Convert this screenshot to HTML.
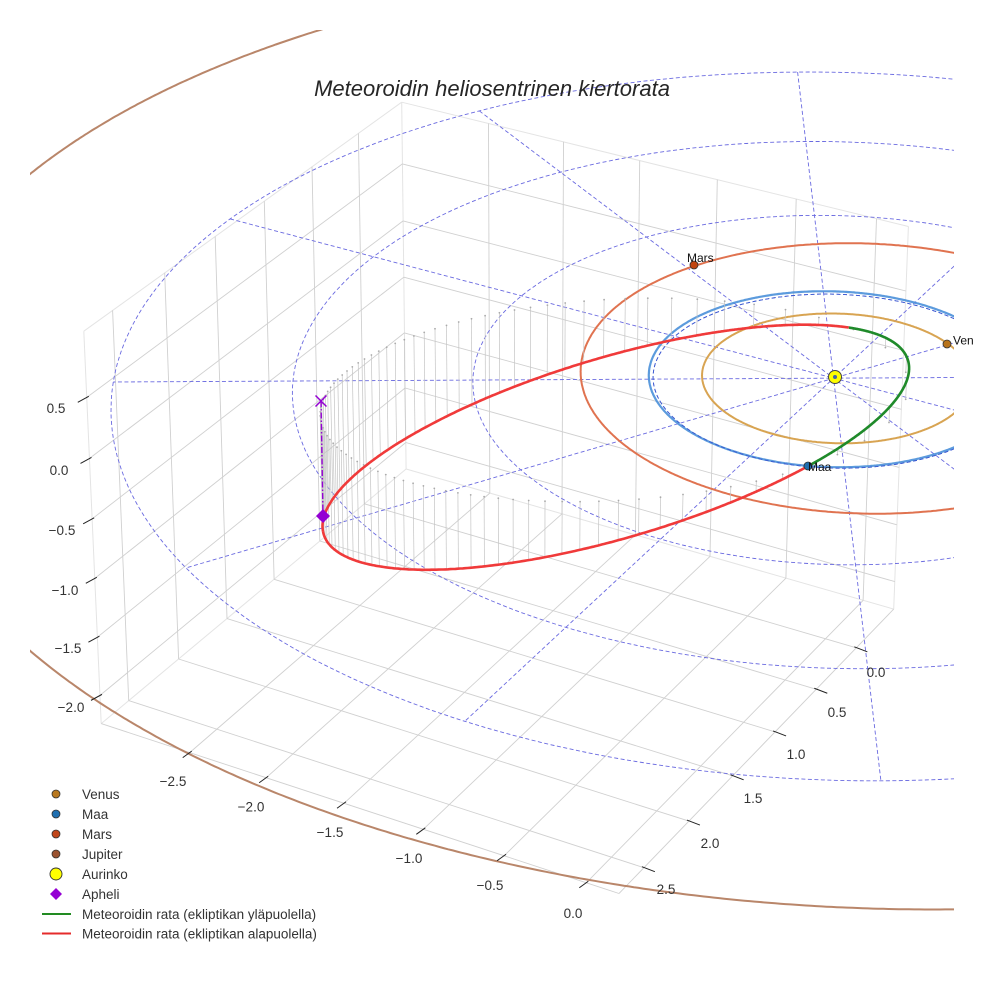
<!DOCTYPE html>
<html><head><meta charset="utf-8">
<style>
html,body{margin:0;padding:0;background:#fff;}
body{width:984px;height:984px;overflow:hidden;position:relative;font-family:"Liberation Sans",Arial,sans-serif;}
svg{position:absolute;left:0;top:0;}
</style></head><body>
<svg id="s" width="984" height="984" viewBox="0 0 984 984" xmlns="http://www.w3.org/2000/svg">
<defs>
<clipPath id="ax"><rect x="30" y="30" width="924" height="930"/></clipPath>
<clipPath id="fig"><rect x="0" y="0" width="974" height="984"/></clipPath>
</defs>
<rect x="0" y="0" width="984" height="984" fill="#fff"/>
<g id="grid"></g>
<g id="geo" clip-path="url(#ax)"></g>
<g id="ticks" stroke="#222" stroke-width="1"></g>

<!-- markers -->
<g>
<line x1="321" y1="401" x2="323" y2="516" stroke="#9400d3" stroke-width="1.4" stroke-dasharray="6 2 1.5 2"/>
<path d="M315.5 395.5 L326.5 406.5 M326.5 395.5 L315.5 406.5" stroke="#9400d3" stroke-width="1.5" fill="none"/>
<path d="M323 509 L330 516 L323 523 L316 516 Z" fill="#9400d3"/>
<circle cx="694" cy="265" r="4" fill="#c1440e" stroke="#333" stroke-width="0.8"/>
<circle cx="947" cy="344" r="4" fill="#b8731a" stroke="#333" stroke-width="0.8"/>
<circle cx="808" cy="466" r="4" fill="#1f6fb0" stroke="#333" stroke-width="0.8"/>
<circle cx="835" cy="377" r="6.5" fill="#ffff00" stroke="#444" stroke-width="1"/>
<circle cx="835" cy="377" r="2" fill="#4466aa"/>
</g>

<g font-family="Liberation Sans, Arial, sans-serif" font-size="12" fill="#111" clip-path="url(#fig)">
<text x="687" y="262">Mars</text>
<text x="953" y="344.5">Venus</text>
<text x="808" y="471">Maa</text>
</g>

<!-- title -->
<text x="492" y="96" text-anchor="middle" font-family="Liberation Sans, Arial, sans-serif" font-size="22" font-style="italic" fill="#262626">Meteoroidin heliosentrinen kiertorata</text>

<!-- tick labels -->
<g font-family="Liberation Sans, Arial, sans-serif" font-size="13.5" fill="#333" text-anchor="middle">
<text x="173" y="786">−2.5</text>
<text x="251" y="811.5">−2.0</text>
<text x="330" y="837">−1.5</text>
<text x="409" y="863">−1.0</text>
<text x="490" y="890">−0.5</text>
<text x="573" y="918">0.0</text>

<text x="876" y="677">0.0</text>
<text x="837" y="717">0.5</text>
<text x="796" y="759">1.0</text>
<text x="753" y="803">1.5</text>
<text x="710" y="848">2.0</text>
<text x="666" y="894">2.5</text>

<text x="56" y="413">0.5</text>
<text x="59" y="475">0.0</text>
<text x="62" y="535">−0.5</text>
<text x="65" y="595">−1.0</text>
<text x="68" y="653">−1.5</text>
<text x="71" y="712">−2.0</text>
</g>

<!-- legend -->
<g font-family="Liberation Sans, Arial, sans-serif" font-size="13.5" fill="#333">
<circle cx="56" cy="794" r="4" fill="#b8781f" stroke="#333" stroke-width="0.8"/>
<text x="82" y="799">Venus</text>
<circle cx="56" cy="814" r="4" fill="#1f6fb0" stroke="#333" stroke-width="0.8"/>
<text x="82" y="819">Maa</text>
<circle cx="56" cy="834" r="4" fill="#c0461a" stroke="#333" stroke-width="0.8"/>
<text x="82" y="839">Mars</text>
<circle cx="56" cy="854" r="4" fill="#9a5230" stroke="#333" stroke-width="0.8"/>
<text x="82" y="859">Jupiter</text>
<circle cx="56" cy="874" r="6" fill="#ffff00" stroke="#333" stroke-width="0.9"/>
<text x="82" y="879">Aurinko</text>
<path d="M56 888 L62 894 L56 900 L50 894 Z" fill="#9400d3"/>
<text x="82" y="899">Apheli</text>
<line x1="42" y1="914" x2="71" y2="914" stroke="#228b22" stroke-width="2"/>
<text x="82" y="919">Meteoroidin rata (ekliptikan yläpuolella)</text>
<line x1="42" y1="933.5" x2="71" y2="933.5" stroke="#e52b2b" stroke-width="2"/>
<text x="82" y="938.5">Meteoroidin rata (ekliptikan alapuolella)</text>
</g>
</svg>
<script>
(function(){
const NS="http://www.w3.org/2000/svg";
const x0=-3.09,x1=0.196,y0=-0.48,y1=2.77,z0=-2.245,z1=1.035;
const C=[];
function add(X,Y,Z,u,v,w){C.push([X,Y,Z,(u-492)/400,(v-492)/400,w||1]);}
add(x0,y1,z0,99,727);add(x1,y1,z0,618,895);add(x1,y0,z0,895,613);add(x0,y0,z0,405,472);
add(x0,y1,z1,82,333);add(x0,y0,z1,400,102);add(x1,y0,z1,912,230);
add(0,0,0,835,377,6);
[[-2.5,187,754],[-2,262,780],[-1.5,342,806],[-1,421,831],[-0.5,503,857],[0,585,884]].forEach(a=>add(a[0],y1,z0,a[1],a[2]));
[[0,857,648],[0.5,817,688],[1,775,730],[1.5,732,773],[2,688,817],[2.5,644,862]].forEach(a=>add(x1,a[0],z0,a[1],a[2]));
[[0.5,86,398],[0,89,458],[-0.5,92,520],[-1,95,579],[-1.5,98,638],[-2,101,697]].forEach(a=>add(x0,y1,a[0],a[1],a[2]));
[[0.5,402,162],[0,402,220],[-0.5,403,277],[-1,403,333],[-1.5,404,388],[-2,405,443]].forEach(a=>add(x0,y0,a[0],a[1],a[2]));
[[2.5,132,698],[2,182,657],[1.5,230,617],[1,277,578],[0.5,322,540],[0,365,505]].forEach(a=>add(x0,a[0],z0,a[1],a[2]));
[[2.5,115,310],[2,167,272],[1.5,218,235],[1,267,200],[0.5,313,165],[0,360,131]].forEach(a=>add(x0,a[0],z1,a[1],a[2]));
[[-2.5,483,122],[-2,560,142],[-1.5,637,162],[-1,715,182],[-0.5,795,202],[0,877,222]].forEach(a=>add(a[0],y0,z1,a[1],a[2]));

function solve(A,b){const n=b.length;for(let i=0;i<n;i++){let m=i;for(let k=i+1;k<n;k++)if(Math.abs(A[k][i])>Math.abs(A[m][i]))m=k;let t=A[i];A[i]=A[m];A[m]=t;t=b[i];b[i]=b[m];b[m]=t;for(let k=i+1;k<n;k++){const f=A[k][i]/A[i][i];for(let j=i;j<n;j++)A[k][j]-=f*A[i][j];b[k]-=f*b[i];}}const x=new Array(n);for(let i=n-1;i>=0;i--){let s=b[i];for(let j=i+1;j<n;j++)s-=A[i][j]*x[j];x[i]=s/A[i][i];}return x;}
const N=11;const A=[];for(let i=0;i<N;i++)A.push(new Array(N).fill(0));const b=new Array(N).fill(0);
C.forEach(c=>{const X=c[0],Y=c[1],Z=c[2],u=c[3],v=c[4],w=c[5];const r1=[X,Y,Z,1,0,0,0,0,-u*X,-u*Y,-u*Z];const r2=[0,0,0,0,X,Y,Z,1,-v*X,-v*Y,-v*Z];
[[r1,u],[r2,v]].forEach(rr=>{const r=rr[0],t=rr[1];for(let i=0;i<N;i++){b[i]+=w*r[i]*t;for(let j=0;j<N;j++)A[i][j]+=w*r[i]*r[j];}});});
const p=solve(A,b);
function den(x,y,z){return p[8]*x+p[9]*y+p[10]*z+1;}
function P(x,y,z){const d=den(x,y,z);return[((p[0]*x+p[1]*y+p[2]*z+p[3])/d)*400+492,((p[4]*x+p[5]*y+p[6]*z+p[7])/d)*400+492];}
const H=[[p[0],p[1],p[3]],[p[4],p[5],p[7]],[p[8],p[9],1]];
function inv3(m){const a=m[0][0],b_=m[0][1],c=m[0][2],d=m[1][0],e=m[1][1],f=m[1][2],g=m[2][0],h=m[2][1],i=m[2][2];const A_=e*i-f*h,B=-(d*i-f*g),C_=d*h-e*g;const det=a*A_+b_*B+c*C_;return[[A_/det,-(b_*i-c*h)/det,(b_*f-c*e)/det],[B/det,(a*i-c*g)/det,-(a*f-c*d)/det],[C_/det,-(a*h-b_*g)/det,(a*e-b_*d)/det]];}
const Hi=inv3(H);
function plane(u,v){u=(u-492)/400;v=(v-492)/400;const X=Hi[0][0]*u+Hi[0][1]*v+Hi[0][2],Y=Hi[1][0]*u+Hi[1][1]*v+Hi[1][2],W=Hi[2][0]*u+Hi[2][1]*v+Hi[2][2];return[X/W,Y/W];}

function el(parent,tag,attrs){const e=document.createElementNS(NS,tag);for(const k in attrs)e.setAttribute(k,attrs[k]);parent.appendChild(e);return e;}
function pathOf(pts){let d="";pts.forEach((q,i)=>{d+=(i?"L":"M")+q[0].toFixed(1)+" "+q[1].toFixed(1);});return d;}
function line3(g,a,b2,attrs){const A1=P(a[0],a[1],a[2]),B1=P(b2[0],b2[1],b2[2]);attrs.d="M"+A1[0].toFixed(1)+" "+A1[1].toFixed(1)+"L"+B1[0].toFixed(1)+" "+B1[1].toFixed(1);return el(g,"path",attrs);}

function nm(f,xs,steps,iters){const n=xs.length;let S=[xs.slice()];for(let i=0;i<n;i++){const x=xs.slice();x[i]+=steps[i];S.push(x);}let F=S.map(f);
for(let it=0;it<iters;it++){const idx=[];for(let i=0;i<=n;i++)idx.push(i);idx.sort((a,c)=>F[a]-F[c]);S=idx.map(i=>S[i]);F=idx.map(i=>F[i]);
const c=new Array(n).fill(0);for(let i=0;i<n;i++)for(let j=0;j<n;j++)c[j]+=S[i][j]/n;
const xr=c.map((v,j)=>v+(v-S[n][j]));const fr=f(xr);
if(fr<F[0]){const xe=c.map((v,j)=>v+2*(v-S[n][j]));const fe=f(xe);if(fe<fr){S[n]=xe;F[n]=fe;}else{S[n]=xr;F[n]=fr;}}
else if(fr<F[n-1]){S[n]=xr;F[n]=fr;}
else{const xc=c.map((v,j)=>v+0.5*(S[n][j]-v));const fc=f(xc);if(fc<F[n]){S[n]=xc;F[n]=fc;}else{for(let i=1;i<=n;i++){S[i]=S[i].map((v,j)=>S[0][j]+0.5*(v-S[0][j]));F[i]=f(S[i]);}}}}
let bi=0;for(let i=1;i<=n;i++)if(F[i]<F[bi])bi=i;return S[bi];}

function mindist(pts,refs){let s=0;for(const r of refs){let m=1e18;for(const q of pts){const dx=q[0]-r[0],dy=q[1]-r[1];const d=dx*dx+dy*dy;if(d<m)m=d;}s+=Math.min(m,2500);}return s;}

const grid=document.getElementById("grid");
const gc={stroke:"#d0d0d0","stroke-width":"0.9",fill:"none"};
const ec={stroke:"#e4e4e4","stroke-width":"1",fill:"none"};
[[[x0,y0,z0],[x0,y1,z0]],[[x0,y1,z0],[x0,y1,z1]],[[x0,y1,z1],[x0,y0,z1]],[[x0,y0,z1],[x0,y0,z0]],
 [[x0,y0,z1],[x1,y0,z1]],[[x1,y0,z1],[x1,y0,z0]],[[x1,y0,z0],[x0,y0,z0]]].forEach(s=>line3(grid,s[0],s[1],Object.assign({},ec)));
[[[x0,y1,z0],[x1,y1,z0]],[[x1,y1,z0],[x1,y0,z0]]].forEach(s=>line3(grid,s[0],s[1],Object.assign({},gc)));
const xt=[-2.5,-2,-1.5,-1,-0.5,0],yt=[0,0.5,1,1.5,2,2.5],zt=[0.5,0,-0.5,-1,-1.5,-2];
xt.forEach(t=>{line3(grid,[t,y0,z0],[t,y1,z0],Object.assign({},gc));line3(grid,[t,y0,z0],[t,y0,z1],Object.assign({},gc));});
yt.forEach(t=>{line3(grid,[x0,t,z0],[x1,t,z0],Object.assign({},gc));line3(grid,[x0,t,z0],[x0,t,z1],Object.assign({},gc));});
zt.forEach(t=>{line3(grid,[x0,y0,t],[x0,y1,t],Object.assign({},gc));line3(grid,[x0,y0,t],[x1,y0,t],Object.assign({},gc));});
const tk=document.getElementById("ticks");
xt.forEach(t=>{const q=P(t,y1,z0);el(tk,"line",{x1:q[0]+2,y1:q[1]-1.5,x2:q[0]-7,y2:q[1]+5});});
yt.forEach(t=>{const q=P(x1,t,z0);el(tk,"line",{x1:q[0]-2,y1:q[1]-1,x2:q[0]+11,y2:q[1]+4});});
zt.forEach(t=>{const q=P(x0,y1,t);el(tk,"line",{x1:q[0]+2,y1:q[1]-1,x2:q[0]-9,y2:q[1]+5});});

const geo=document.getElementById("geo");
function circ(cx,cy,r,n){const a=[];for(let i=0;i<=n;i++){const th=2*Math.PI*i/n;const X=cx+r*Math.cos(th),Y=cy+r*Math.sin(th);if(den(X,Y,0)<0.05){continue;}a.push(P(X,Y,0));}return a;}
function circle(r,n){return circ(0,0,r,n);}
function fitC(refs,r0){return nm(q=>mindist(circ(q[0],q[1],q[2],600),refs),[0,0,r0],[0.08,0.08,0.08],250);}

const dash={stroke:"#6a6ae0","stroke-width":"0.9",fill:"none","stroke-dasharray":"4 2.5"};
[1,2,3,4].forEach(r=>el(geo,"path",Object.assign({d:pathOf(circle(r,360))},dash)));
for(let k=0;k<6;k++){const th=k*Math.PI/6;const a=P(-4*Math.cos(th),-4*Math.sin(th),0),b2=P(4*Math.cos(th),4*Math.sin(th),0);el(geo,"path",Object.assign({d:pathOf([a,b2])},dash));}

const jupRef=[[30,173],[100,127],[200,72],[313,30],[30,648],[100,700],[180,753],[240,778],[330,813],[413,843],[497,863],[583,880],[660,892],[740,898],[953,907]];
const marsRef=[[693,265],[660,283],[627,307],[600,330],[585,357],[580,377],[583,397],[597,423],[617,443],[647,463],[673,477],[700,487],[773,500],[840,510],[953,503],[747,252],[813,243],[847,241],[913,243],[953,250]];
const earthRef=[[652,377],[673,330],[707,307],[773,295],[840,292],[953,318],[953,448],[873,465],[807,466],[740,457],[690,433],[660,403]];
const venRef=[[703,377],[723,343],[773,322],[840,312],[907,318],[947,344],[953,407],[907,437],[840,447],[773,437],[723,410]];
const J=fitC(jupRef,5.2),M=fitC(marsRef,1.524),Ea=fitC(earthRef,1.0),V=fitC(venRef,0.723);
el(geo,"path",{d:pathOf(circ(J[0],J[1],J[2],1440)),stroke:"#b9866a","stroke-width":"2",fill:"none"});
el(geo,"path",{d:pathOf(circ(M[0],M[1],M[2],720)),stroke:"#e07350","stroke-width":"2",fill:"none"});
el(geo,"path",{d:pathOf(circ(Ea[0],Ea[1],Ea[2],720)),stroke:"#4a90d9","stroke-width":"2.2",fill:"none","stroke-opacity":"0.9"});
el(geo,"path",{d:pathOf(circle(1,360)),stroke:"#3a5ad0","stroke-width":"0.9",fill:"none","stroke-dasharray":"4 2.5"});
el(geo,"path",{d:pathOf(circ(V[0],V[1],V[2],720)),stroke:"#d8a452","stroke-width":"2",fill:"none"});

// meteoroid orbit
function norm(v){return Math.hypot(v[0],v[1],v[2]);}
function cross(a,c){return[a[1]*c[2]-a[2]*c[1],a[2]*c[0]-a[0]*c[2],a[0]*c[1]-a[1]*c[0]];}
function dot(a,c){return a[0]*c[0]+a[1]*c[1]+a[2]*c[2];}
function build(q){const Ep=plane(q[0],q[1]);const E=[Ep[0],Ep[1],0];const Ap=plane(q[2],q[3]);const vv=(q[4]-492)/400;
const az=(vv*(p[8]*Ap[0]+p[9]*Ap[1]+1)-(p[4]*Ap[0]+p[5]*Ap[1]+p[7]))/(p[6]-vv*p[10]);const Av=[Ap[0],Ap[1],az];
const Q=norm(Av),rE=norm(E);if(!(Q>rE))return null;const uh=[-Av[0]/Q,-Av[1]/Q,-Av[2]/Q];const nn=cross(E,Av);let wh=cross(nn,uh);const wn=norm(wh);if(!(wn>1e-9))return null;wh=[wh[0]/wn,wh[1]/wn,wh[2]/wn];
const cE=dot(E,uh)/rE;const ecc=(Q-rE)/(Q+rE*cE);if(!(ecc>0&&ecc<0.98))return null;return{ecc:ecc,pp:Q*(1-ecc),uh:uh,wh:wh};}
function opos(o,nu){const r=o.pp/(1+o.ecc*Math.cos(nu));const c=Math.cos(nu),s=Math.sin(nu);return[r*(c*o.uh[0]+s*o.wh[0]),r*(c*o.uh[1]+s*o.wh[1]),r*(c*o.uh[2]+s*o.wh[2])];}
function ocurve(o,n){const a=[];for(let i=0;i<=n;i++){const q=opos(o,-Math.PI+2*Math.PI*i/n);a.push(P(q[0],q[1],q[2]));}return a;}
const orbRef=[[327,507],[333,490],[360,470],[410,437],[473,407],[547,377],[560,373],[600,360],[627,355],[640,348],[673,338],[700,337],[707,332],[740,328],[790,327],[830,327],[850,328],[880,337],[898,345],[907,350],[911,367],[907,387],[893,410],[873,427],[853,443],[827,460],[808,466],[773,483],[757,488],[700,510],[650,530],[600,540],[527,563],[437,572],[377,567],[343,553],[325,533],[322,517]];
function pen(q){return 4*((q[0]-808)*(q[0]-808)+(q[1]-466)*(q[1]-466));}
let prm=[808,466,321,401,516];
prm=nm(q=>{const o=build(q);if(!o)return 1e12;return mindist(ocurve(o,700),orbRef)+pen(q);},prm,[8,8,8,8,8],400);
prm=nm(q=>{const o=build(q);if(!o)return 1e12;return mindist(ocurve(o,900),orbRef)+pen(q);},prm,[3,3,3,3,3],300);
let O=build(prm);if(!O)O=build([808,466,321,401,516]);
const stemG=el(geo,"g",{});
const NS_=90;
for(let k=0;k<NS_;k++){const Mn=2*Math.PI*k/NS_;let E_=Mn;for(let it=0;it<50;it++){E_=E_-(E_-O.ecc*Math.sin(E_)-Mn)/(1-O.ecc*Math.cos(E_));}
const nu=2*Math.atan2(Math.sqrt(1+O.ecc)*Math.sin(E_/2),Math.sqrt(1-O.ecc)*Math.cos(E_/2));const q=opos(O,nu);
const a=P(q[0],q[1],q[2]),t=P(q[0],q[1],0);
el(stemG,"path",{d:pathOf([a,t]),stroke:"#c4c4c4","stroke-width":"0.7",fill:"none"});
el(stemG,"circle",{cx:t[0].toFixed(1),cy:t[1].toFixed(1),r:"0.9",fill:"#aaa"});}
const NP=1440;let cur=null,curSign=null;const segs=[];
for(let i=0;i<=NP;i++){const nu=-Math.PI+2*Math.PI*i/NP;const q=opos(O,nu);const s=q[2]>=0;const pt=P(q[0],q[1],q[2]);
if(cur===null||s!==curSign){if(cur)cur.push(pt);cur=[pt];curSign=s;segs.push({s:s,pts:cur});}else cur.push(pt);}
segs.forEach(sg=>el(geo,"path",{d:pathOf(sg.pts),stroke:sg.s?"#1f8a2a":"#f03a3a","stroke-width":"2.6",fill:"none","stroke-linejoin":"round"}));
})();
</script>
</body></html>
